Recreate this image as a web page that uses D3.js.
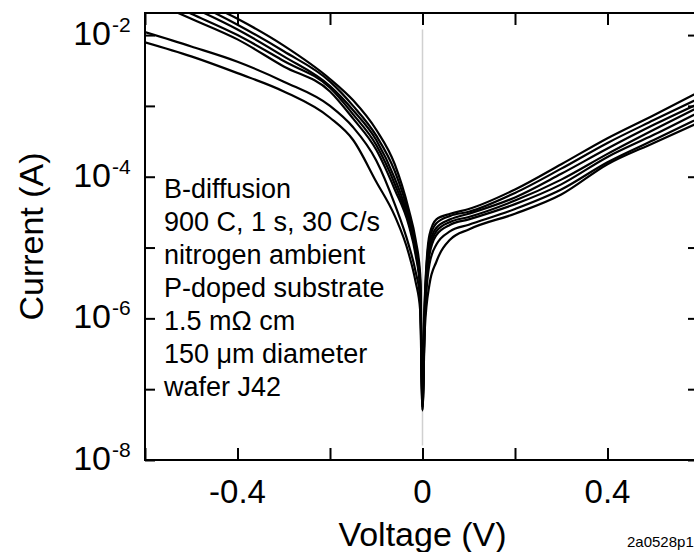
<!DOCTYPE html>
<html>
<head>
<meta charset="utf-8">
<script src="https://cdn.jsdelivr.net/npm/d3@7"></script>
<style>
  body { margin: 0; background: #fff; }
  text { font-family: "Liberation Sans", Arial, sans-serif; fill: #000; }
</style>
</head>
<body>
<div id="chart"></div>
<script>
// Voltage sweep points (V)
const reverseV = [-0.6, -0.5, -0.4, -0.3, -0.2, -0.15, -0.1, -0.06, -0.03, -0.015, -0.005, 0];
const forwardV = [0.005, 0.015, 0.03, 0.06, 0.1, 0.2, 0.3, 0.4, 0.5, 0.6];

// Current (A), one device per array
const dev1Rev = [7.1e-2, 3.5e-2, 1.7e-2, 7.1e-3, 2.4e-3, 1.2e-3, 4.6e-4, 1.5e-4, 3.5e-5, 1.3e-5, 4.2e-6, 1.0e-7];
const dev1Fwd = [1.9e-6, 1.5e-5, 2.5e-5, 3.0e-5, 3.5e-5, 6.6e-5, 1.5e-4, 3.5e-4, 7.4e-4, 1.6e-3];
const dev2Rev = [6.0e-2, 3.0e-2, 1.4e-2, 5.9e-3, 2.2e-3, 1.0e-3, 3.8e-4, 1.2e-4, 3.0e-5, 1.1e-5, 3.5e-6, 7.9e-8];
const dev2Fwd = [1.7e-6, 1.3e-5, 2.2e-5, 2.8e-5, 3.2e-5, 5.9e-5, 1.3e-4, 3.0e-4, 6.3e-4, 1.3e-3];
const dev3Rev = [5.0e-2, 2.5e-2, 1.2e-2, 5.0e-3, 1.9e-3, 8.7e-4, 3.3e-4, 9.5e-5, 2.6e-5, 1.0e-5, 3.2e-6, 6.3e-8];
const dev3Fwd = [1.4e-6, 1.1e-5, 1.9e-5, 2.5e-5, 3.0e-5, 5.1e-5, 1.1e-4, 2.5e-4, 5.4e-4, 1.1e-3];
const dev4Rev = [4.0e-2, 2.0e-2, 1.0e-2, 4.3e-3, 1.8e-3, 7.6e-4, 2.8e-4, 7.9e-5, 2.3e-5, 8.9e-6, 2.8e-6, 7.1e-8];
const dev4Fwd = [1.3e-6, 9.3e-6, 1.7e-5, 2.3e-5, 2.7e-5, 4.6e-5, 9.1e-5, 2.1e-4, 4.6e-4, 9.8e-4];
const dev5Rev = [3.3e-2, 1.7e-2, 8.7e-3, 3.6e-3, 1.6e-3, 6.6e-4, 2.4e-4, 6.6e-5, 2.1e-5, 7.9e-6, 2.6e-6, 5.6e-8];
const dev5Fwd = [1.1e-6, 7.9e-6, 1.5e-5, 2.1e-5, 2.5e-5, 4.1e-5, 7.8e-5, 1.9e-4, 3.9e-4, 8.3e-4];
const dev6Rev = [1.1e-2, 6.9e-3, 4.2e-3, 2.2e-3, 1.0e-3, 5.0e-4, 1.7e-4, 4.1e-5, 1.1e-5, 4.6e-6, 1.9e-6, 5.0e-8];
const dev6Fwd = [9.8e-7, 5.8e-6, 1.1e-5, 1.7e-5, 2.1e-5, 3.5e-5, 6.6e-5, 1.6e-4, 3.3e-4, 6.8e-4];
const dev7Rev = [7.9e-3, 5.0e-3, 2.9e-3, 1.6e-3, 6.8e-4, 3.3e-4, 8.5e-5, 2.8e-5, 8.3e-6, 3.3e-6, 1.3e-6, 5.2e-8];
const dev7Fwd = [7.1e-7, 3.0e-6, 6.3e-6, 1.3e-5, 1.8e-5, 3.0e-5, 5.6e-5, 1.5e-4, 3.0e-4, 5.9e-4];

// Axis ticks
const xTicks = [-0.6, -0.4, -0.2, 0, 0.2, 0.4, 0.6];
const xLabels = ['-0.4', '0', '0.4'];
const yTicks = [1e-8, 1e-7, 1e-6, 1e-5, 1e-4, 1e-3, 1e-2];
const yLabels = [[1e-2, '-2'], [1e-4, '-4'], [1e-6, '-6'], [1e-8, '-8']];

const notes = [
    'B-diffusion',
    '900 C, 1 s, 30 C/s',
    'nitrogen ambient',
    'P-doped substrate',
    '1.5 m\u03A9 cm',
    '150 \u03BCm diameter',
    'wafer J42'
];

const width = 694;
const height = 552;
const plot = { left: 145, right: 700, top: 13, bottom: 460 };

const svg = d3.select('#chart')
    .append('svg')
    .attr('width', width)
    .attr('height', height);

const x = d3.scaleLinear().domain([-0.6, 0.6]).range([plot.left, plot.right]);
const y = d3.scaleLog().domain([1e-8, 2.05e-2]).range([plot.bottom, plot.top]);

svg.append('clipPath')
    .attr('id', 'plot-clip')
    .append('rect')
    .attr('x', plot.left)
    .attr('y', plot.top)
    .attr('width', plot.right - plot.left)
    .attr('height', plot.bottom - plot.top);

// grey zero-volt marker
svg.append('line')
    .attr('x1', x(0)).attr('x2', x(0))
    .attr('y1', y(1.2e-2)).attr('y2', y(1.6e-8))
    .attr('stroke', '#d0d0d0')
    .attr('stroke-width', 1.5);

// curves
const devices = [
    [dev1Rev, dev1Fwd], [dev2Rev, dev2Fwd], [dev3Rev, dev3Fwd], [dev4Rev, dev4Fwd],
    [dev5Rev, dev5Fwd], [dev6Rev, dev6Fwd], [dev7Rev, dev7Fwd]
];
const series = devices.map(([rev, fwd]) =>
    reverseV.map((v, i) => ({ v, i: rev[i] }))
        .concat(forwardV.map((v, i) => ({ v, i: fwd[i] }))));

const line = d3.line()
    .x(d => x(d.v))
    .y(d => y(d.i))
    .curve(d3.curveMonotoneX);

svg.append('g')
    .attr('clip-path', 'url(#plot-clip)')
    .selectAll('path')
    .data(series)
    .enter()
    .append('path')
    .attr('d', line)
    .attr('fill', 'none')
    .attr('stroke', '#000')
    .attr('stroke-width', 2.2)
    .attr('stroke-linejoin', 'round');

// ticks on all four sides, pointing inward
const tickStyle = g => {
    g.select('.domain').remove();
    g.selectAll('.tick line').attr('stroke', '#000').attr('stroke-width', 2);
    g.selectAll('.tick text').remove();
};

svg.append('g')
    .attr('transform', `translate(0,${plot.bottom})`)
    .call(d3.axisBottom(x).tickValues(xTicks).tickSize(-12))
    .call(tickStyle);
svg.append('g')
    .attr('transform', `translate(0,${plot.top})`)
    .call(d3.axisTop(x).tickValues(xTicks).tickSize(-12))
    .call(tickStyle);
svg.append('g')
    .attr('transform', `translate(${plot.left},0)`)
    .call(d3.axisLeft(y).tickValues(yTicks).tickSize(-10))
    .call(tickStyle);
svg.append('g')
    .attr('transform', `translate(${plot.right},0)`)
    .call(d3.axisRight(y).tickValues(yTicks).tickSize(-12))
    .call(tickStyle);

// frame
svg.append('rect')
    .attr('x', plot.left)
    .attr('y', plot.top)
    .attr('width', plot.right - plot.left)
    .attr('height', plot.bottom - plot.top)
    .attr('fill', 'none')
    .attr('stroke', '#000')
    .attr('stroke-width', 2);

// x labels (plain hyphen, as in the original)
svg.selectAll('.xlabel')
    .data(xLabels)
    .enter()
    .append('text')
    .attr('x', d => x(+d))
    .attr('y', 503)
    .attr('text-anchor', 'middle')
    .style('font-size', '33px')
    .text(d => d);

// y labels: 10 with superscript exponent
const yl = svg.selectAll('.ylabel')
    .data(yLabels)
    .enter()
    .append('g');
yl.append('text')
    .attr('x', 111)
    .attr('y', d => y(d[0]) + 10)
    .attr('text-anchor', 'end')
    .style('font-size', '34px')
    .text('10');
yl.append('text')
    .attr('x', 112)
    .attr('y', d => y(d[0]) - 3)
    .style('font-size', '21px')
    .text(d => d[1]);

// axis titles
svg.append('text')
    .attr('x', x(0))
    .attr('y', 546)
    .attr('text-anchor', 'middle')
    .style('font-size', '34px')
    .text('Voltage (V)');

svg.append('text')
    .attr('transform', `translate(43,${(plot.top + plot.bottom) / 2}) rotate(-90)`)
    .attr('text-anchor', 'middle')
    .style('font-size', '34px')
    .text('Current (A)');

// annotation block
svg.append('g')
    .selectAll('text')
    .data(notes)
    .enter()
    .append('text')
    .attr('x', 164)
    .attr('y', (d, i) => 198 + i * 33)
    .style('font-size', '27px')
    .text(d => d);

svg.append('text')
    .attr('x', 627)
    .attr('y', 547)
    .style('font-size', '15px')
    .text('2a0528p1');
</script>
</body>
</html>
